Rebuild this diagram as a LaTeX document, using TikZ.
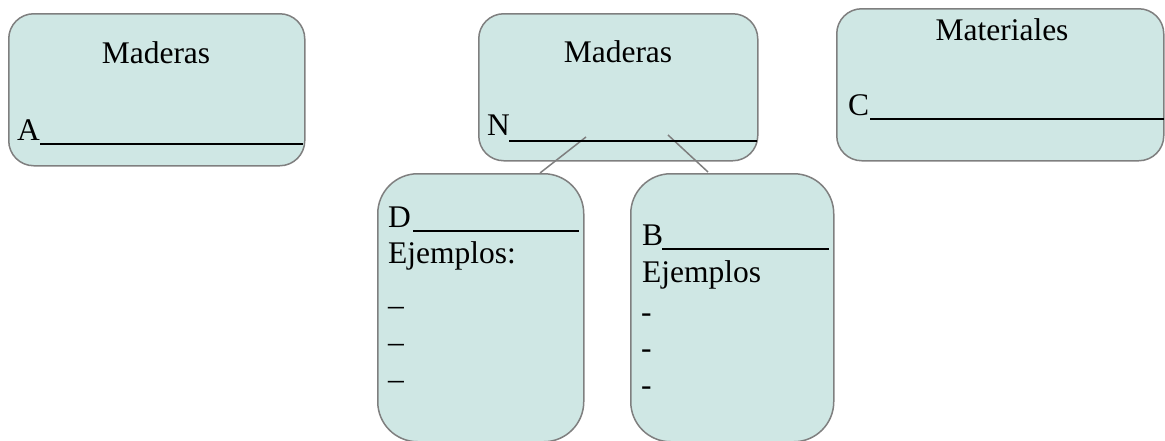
\documentclass[tikz,border=0pt]{standalone}
\usepackage{fontspec}
\setmainfont{Liberation Serif}
\definecolor{boxfill}{HTML}{CFE7E4}
\definecolor{boxline}{HTML}{7F7F7F}
\begin{document}
\begin{tikzpicture}[x=1pt,y=-1pt,
  card/.style={draw=boxline,line width=1.5pt,fill=boxfill,rounded corners=25pt,inner sep=0pt,anchor=north west},
  tallcard/.style={card,rounded corners=40pt},
  txt/.style={inner sep=0pt,font=\fontsize{31.5}{36}\selectfont},
  lbl/.style={txt,anchor=base west},
  ttl/.style={txt,anchor=base},
  uline/.style={line width=2pt,black},
  conn/.style={draw=boxline,line width=1.5pt}]
\useasboundingbox (0,0) rectangle (1165,440);
% boxes
\node[card,minimum width=296pt,minimum height=152pt] (boxA) at (8,13) {};
\node[card,minimum width=279pt,minimum height=147pt] (boxN) at (478,13) {};
\node[card,minimum width=327pt,minimum height=152pt] (boxC) at (836,8) {};
\node[tallcard,minimum width=206pt,minimum height=268pt] (boxD) at (377,173) {};
\node[tallcard,minimum width=203pt,minimum height=268pt] (boxB) at (630,173) {};
% connectors
\coordinate (nl) at (586,137);
\coordinate (nr) at (668,135);
\coordinate (dt) at (540,173);
\coordinate (bt) at (708,172);
\draw[conn] (nl) -- (dt);
\draw[conn] (nr) -- (bt);
% box A
\node[ttl] (tA) at (156,63) {Maderas};
\node[lbl] (lA) at (17,140) {A};
\coordinate (uA1) at (40,144); \coordinate (uA2) at (303,144);
\draw[uline] (uA1) -- (uA2);
% box N
\node[ttl] (tN) at (618,62) {Maderas};
\node[lbl] (lN) at (487,135) {N};
\coordinate (uN1) at (509,141); \coordinate (uN2) at (757,141);
\draw[uline] (uN1) -- (uN2);
% box C
\node[ttl] (tC) at (1002,40) {Materiales};
\node[lbl] (lC) at (848,115) {C};
\coordinate (uC1) at (870,119); \coordinate (uC2) at (1164,119);
\draw[uline] (uC1) -- (uC2);
% box D
\node[lbl] (lD) at (388,227) {D};
\coordinate (uD1) at (413,231); \coordinate (uD2) at (579,231);
\draw[uline] (uD1) -- (uD2);
\node[lbl] (eD) at (388,263) {Ejemplos:};
\node[lbl] (d1) at (388,315) {–};
\node[lbl] (d2) at (388,352) {–};
\node[lbl] (d3) at (388,389) {–};
% box B
\node[lbl] (lB) at (642,245) {B};
\coordinate (uB1) at (662,249); \coordinate (uB2) at (829,249);
\draw[uline] (uB1) -- (uB2);
\node[lbl] (eB) at (642,282) {Ejemplos};
\node[lbl] (h1) at (641,322) {-};
\node[lbl] (h2) at (641,358) {-};
\node[lbl] (h3) at (641,395) {-};
\end{tikzpicture}
\end{document}
